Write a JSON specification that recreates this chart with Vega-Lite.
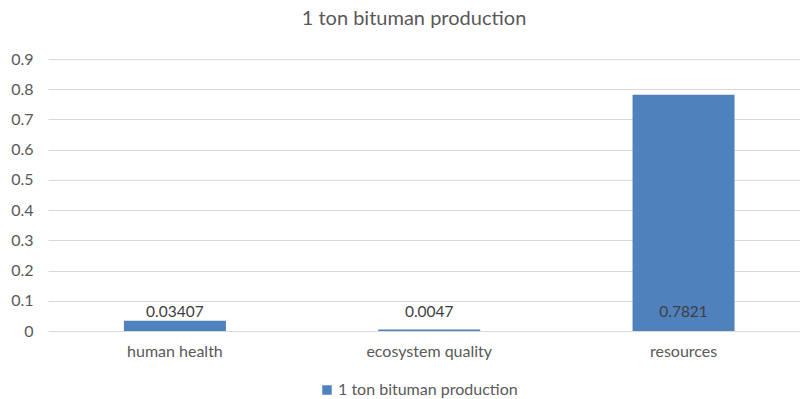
{
  "$schema": "https://vega.github.io/schema/vega-lite/v6.json",
  "autosize": "none",
  "width": 752,
  "height": 272,
  "padding": {"left": 48, "top": 59, "right": 0, "bottom": 68},
  "background": "white",
  "config": {
    "font": "Lato",
    "view": {"stroke": null},
    "axisY": {
      "title": null,
      "values": [0, 0.1, 0.2, 0.3, 0.4, 0.5, 0.6, 0.7, 0.8, 0.9],
      "labelOverlap": false,
      "format": "~g",
      "labelFontSize": 16,
      "labelColor": "#595959",
      "labelPadding": 15,
      "ticks": false,
      "domain": false,
      "gridColor": "#d9d9d9",
      "gridWidth": 1
    }
  },
  "title": {
    "text": "1 ton bituman production",
    "fontSize": 20,
    "fontWeight": "normal",
    "color": "#595959",
    "offset": 22,
    "dx": -10
  },
  "data": {
    "values": [
      {"category": "human health", "value": 0.03407, "label": "0.03407", "series": "1 ton bituman production"},
      {"category": "ecosystem quality", "value": 0.0047, "label": "0.0047", "series": "1 ton bituman production"},
      {"category": "resources", "value": 0.7821, "label": "0.7821", "series": "1 ton bituman production"}
    ]
  },
  "encoding": {
    "x": {
      "field": "category",
      "type": "nominal",
      "sort": null,
      "scale": {"paddingInner": 0.599, "paddingOuter": 0.278, "align": 0.537},
      "axis": {
        "title": null,
        "labelAngle": 0,
        "labelFontSize": 16,
        "labelColor": "#595959",
        "labelPadding": 12,
        "ticks": false,
        "domain": false
      }
    }
  },
  "layer": [
    {
      "mark": {"type": "bar", "color": "#4F81BD"},
      "encoding": {
        "y": {
          "field": "value",
          "type": "quantitative",
          "scale": {"domain": [0, 0.9]},
          "axis": {"title": null}
        },
        "color": {
          "field": "series",
          "type": "nominal",
          "scale": {"range": ["#4F81BD"]},
          "legend": {
            "title": null,
            "orient": "none",
            "legendX": 271,
            "legendY": 323,
            "direction": "horizontal",
            "symbolType": "square",
            "symbolSize": 90,
            "symbolStrokeWidth": 0,
            "symbolOffset": 0,
            "labelOffset": 3,
            "labelLimit": 400,
            "labelFontSize": 16,
            "labelColor": "#595959"
          }
        }
      }
    },
    {
      "mark": {"type": "text", "fontSize": 15.5, "color": "#404040", "baseline": "middle", "dy": -19},
      "encoding": {
        "y": {"datum": 0, "type": "quantitative", "axis": {"title": null}},
        "text": {"field": "label"}
      }
    }
  ]
}
